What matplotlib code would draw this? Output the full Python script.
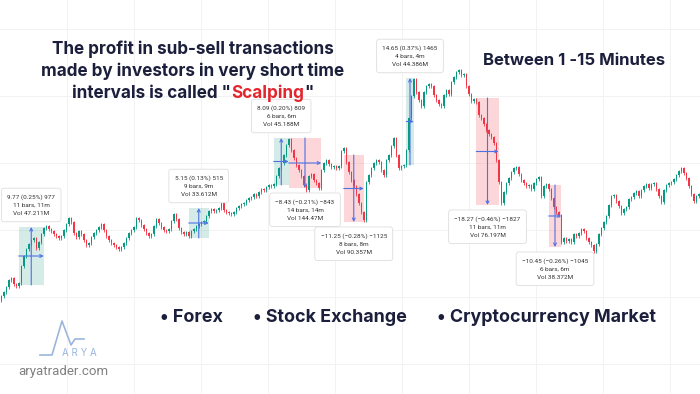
import matplotlib
matplotlib.use('Agg')
import matplotlib.pyplot as plt
from matplotlib.patches import Rectangle

# price level of every 1-minute candle (close)
first_open = 100
closes = [104, 108, 113, 120, 122, 116, 114, 117, 134, 144, 151, 156, 160, 162, 152, 158,
          166, 172, 174, 171, 169, 166, 164, 162, 164, 170, 176, 182, 178, 167, 163, 169,
          166, 160, 155, 157, 163, 167, 170, 173, 176, 170, 164, 160, 157, 155, 153, 151,
          153, 157, 162, 167, 170, 173, 182, 180, 175, 171, 167, 164, 166, 174, 181, 177,
          173, 170, 169, 171, 179, 186, 181, 172, 168, 166, 168, 164, 169, 171, 174, 176,
          178, 179, 184, 189, 191, 189, 190, 192, 197, 190, 188, 187, 186, 188, 192, 194,
          196, 197, 200, 202, 203, 206, 204, 208, 211, 210, 213, 215, 214, 216, 224, 232,
          237, 245, 255, 261, 250, 242, 235, 230, 224, 215, 210, 224, 226, 220, 217, 212,
          230, 237, 240, 236, 233, 234, 232, 234, 249, 252, 238, 228, 220, 214, 206, 197,
          188, 180, 218, 225, 232, 237, 240, 238, 230, 225, 240, 245, 254, 262, 245, 232,
          234, 235, 250, 282, 304, 321, 308, 300, 294, 308, 314, 316, 314, 305, 300, 296,
          294, 305, 310, 306, 318, 323, 328, 330, 325, 326, 314, 306, 299, 301, 298, 285,
          282, 276, 270, 266, 263, 257, 240, 218, 197, 208, 217, 222, 228, 232, 233, 226,
          220, 217, 214, 215, 211, 217, 221, 223, 204, 214, 216, 211, 202, 193, 188, 185,
          158, 162, 159, 161, 158, 166, 164, 167, 171, 169, 162, 158, 155, 149, 156, 166,
          172, 178, 184, 195, 204, 205, 199, 194, 187, 191, 193, 201, 203, 207, 209, 204,
          210, 214, 216, 212, 216, 217, 211, 204, 198, 210, 215, 217, 218, 221, 225, 229,
          232, 227, 222, 214, 206, 199, 204, 206]

# price-range measurements (bar index from/to, price from/to)
m_start = [7, 75, 109, 115, 137, 162, 190, 219]
m_end = [17, 83, 115, 128, 145, 165, 199, 224]
m_from = [115, 162, 215, 262, 245, 235, 302, 215]
m_to = [173, 192, 262, 212, 178, 322, 195, 153]
m_labels = [
    "9.77 (0.25%) 977\n11 bars, 11m\nVol 47.211M",
    "5.15 (0.13%) 515\n9 bars, 9m\nVol 33.612M",
    "8.09 (0.20%) 809\n6 bars, 6m\nVol 45.188M",
    "\u22128.43 (\u22120.21%) \u2212843\n14 bars, 14m\nVol 144.47M",
    "\u221211.25 (\u22120.28%) \u22121125\n8 bars, 8m\nVol 90.357M",
    "14.65 (0.37%) 1465\n4 bars, 4m\nVol 44.386M",
    "\u221218.27 (\u22120.46%) \u22121827\n11 bars, 11m\nVol 76.197M",
    "\u221210.45 (\u22120.26%) \u22121045\n6 bars, 6m\nVol 38.372M",
]

title_lines = ["The profit in sub-sell transactions", "made by investors in very short time"]
title_last = ['intervals is called "', 'Scalping', '"']
side_note = "Between 1 -15 Minutes"
markets = ["\u2022 Forex", "\u2022 Stock Exchange", "\u2022 Cryptocurrency Market"]

UP = '#089981'
DOWN = '#f23645'
BLUE = '#4f72e3'
NAVY = '#1b1f3b'

fig = plt.figure(figsize=(7, 3.94), dpi=100)
fig.patch.set_facecolor('white')

# background layer in pixel units: faint grid
bg = fig.add_axes([0, 0, 1, 1])
bg.set_xlim(0, 700)
bg.set_ylim(394, 0)
bg.axis('off')
for gx in range(67, 700, 67):
    bg.axvline(gx, color='#f2f2f2', lw=0.7, zorder=0)
for gy in range(29, 394, 67):
    bg.axhline(gy, color='#f2f2f2', lw=0.7, zorder=0)

# candles
ax = fig.add_axes([0, 0, 1, 1])
ax.patch.set_alpha(0)
ax.axis('off')
n = len(closes)
ax.set_xlim(-0.5, n - 0.5)
ax.set_ylim(6, 400)

# measurement boxes first so candles sit on top
for s, e, p0, p1, lab in zip(m_start, m_end, m_from, m_to, m_labels):
    up = p1 > p0
    fc = (0.16, 0.62, 0.55, 0.2) if up else (0.95, 0.21, 0.27, 0.2)
    ax.add_patch(Rectangle((s, min(p0, p1)), e - s, abs(p1 - p0), fc=fc, ec='none', zorder=1))
    mx = (s + e) / 2
    my = (p0 + p1) / 2
    ap = dict(arrowstyle='->', color=BLUE, lw=0.8, shrinkA=0, shrinkB=0, mutation_scale=5)
    ax.annotate('', xy=(mx, p1), xytext=(mx, p0), arrowprops=ap, zorder=4)
    ax.annotate('', xy=(e, my), xytext=(s, my), arrowprops=ap, zorder=4)
    box = dict(boxstyle='round,pad=0.9,rounding_size=0.4', fc='white', ec='#dedede', lw=0.6)
    if up:
        ax.annotate(lab, xy=(mx, max(p0, p1)), xytext=(0, 11), textcoords='offset pixels',
                    ha='center', va='bottom', fontsize=4.6, family='Roboto', color='#333333',
                    linespacing=1.75, zorder=6, bbox=box)
    else:
        ax.annotate(lab, xy=(mx, min(p0, p1)), xytext=(0, -11), textcoords='offset pixels',
                    ha='center', va='top', fontsize=4.6, family='Roboto', color='#333333',
                    linespacing=1.75, zorder=6, bbox=box)

opens = [first_open] + closes[:-1]
for i, (o, c) in enumerate(zip(opens, closes)):
    col = UP if c >= o else DOWN
    ax.vlines(i, min(o, c) - 1.5, max(o, c) + 1.5, color=col, lw=0.6, zorder=2)
    h = c - o if abs(c - o) >= 0.8 else 0.8
    ax.bar(i, h, bottom=o, width=0.6, color=col, lw=0, zorder=3)

# top layer in pixel units: headline, market list, logo
fg = fig.add_axes([0, 0, 1, 1])
fg.patch.set_alpha(0)
fg.set_xlim(0, 700)
fg.set_ylim(394, 0)
fg.axis('off')

tfont = dict(family='Inter', weight='bold', fontsize=12.3, color=NAVY)
fg.text(193, 49, title_lines[0], ha='center', va='center', **tfont)
fg.text(193, 71, title_lines[1], ha='center', va='center', **tfont)

# last line in three pieces, the middle one red; measure to center the row
renderer = fig.canvas.get_renderer()
pieces = []
for txt, col in zip(title_last, [NAVY, '#e3262e', NAVY]):
    pieces.append(fg.text(0, 93, txt, ha='left', va='center', **dict(tfont, color=col)))
widths = [p.get_window_extent(renderer).width for p in pieces]
xcur = 193 - sum(widths) / 2
for p, w in zip(pieces, widths):
    p.set_x(xcur)
    xcur += w

fg.text(483, 60, side_note, ha='left', va='center', **dict(tfont, fontsize=12))

for xpos, m in zip([160, 253, 437], markets):
    fg.text(xpos, 318, m, ha='left', va='center', family='Inter', weight='bold',
            fontsize=12.9, color=NAVY)

# logo
fg.plot([40, 52, 62, 71, 75, 84], [355, 355, 321, 345, 339, 339], color='#9bb6da', lw=1.2)
fg.text(79, 353, "A R Y A", ha='center', va='center', fontsize=7, family='Inter', color='#9bb6da')
fg.text(63, 372, "aryatrader.com", ha='center', va='center', fontsize=9.5, family='Roboto',
        color='#808080')

fig.savefig('out.png', dpi=100, facecolor='white')
